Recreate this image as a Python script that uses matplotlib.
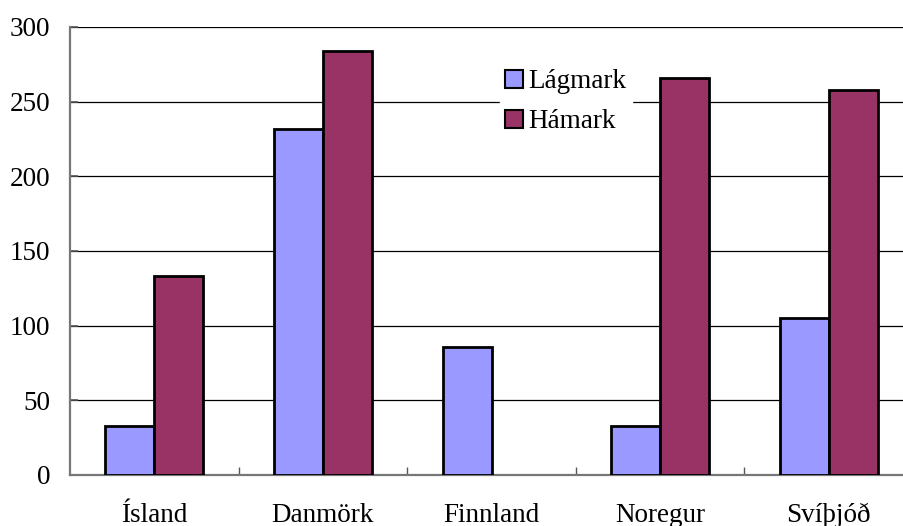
import numpy as np
import matplotlib.pyplot as plt
from matplotlib.ticker import FixedLocator

countries = ['Ísland', 'Danmörk', 'Finnland', 'Noregur', 'Svíþjóð']
lagmark = [33, 232, 86, 33, 105]
hamark = [133, 284, 0, 266, 258]
series_names = ['Lágmark', 'Hámark']
colors = ['#9999FF', '#993366']

plt.rcParams['font.family'] = ['Liberation Serif', 'DejaVu Serif']

fig = plt.figure(figsize=(9.04, 5.26), dpi=100)
ax = fig.add_axes([70 / 904, 1 - 475 / 526, 843 / 904, 448 / 526])

x = np.arange(len(countries))
w = 0.29
for off, vals, name, col in [(-w / 2, lagmark, series_names[0], colors[0]),
                             (w / 2, hamark, series_names[1], colors[1])]:
    bars = ax.bar(x + off, vals, w, color=col, edgecolor='black', linewidth=2, label=name, zorder=3)
    for b, v in zip(bars, vals):
        if v == 0:
            b.set_visible(False)

ax.set_xlim(-0.5, len(countries) - 0.5)
ax.set_ylim(0, 300)
ax.set_yticks(np.arange(0, 301, 50))
ax.yaxis.grid(True, color='black', linewidth=0.9, zorder=0)

ax.set_xticks(x)
ax.set_xticklabels(countries)
ax.xaxis.set_minor_locator(FixedLocator(np.arange(0.5, len(countries) - 0.5, 1)))
ax.tick_params(axis='x', which='major', length=0, pad=20, labelsize=19.5)
ax.tick_params(axis='x', which='minor', direction='in', length=6, width=1, color='#555555')
ax.tick_params(axis='y', direction='in', length=6, width=1.2, color='#555555', pad=14, labelsize=19.5)

for s in ['top', 'right']:
    ax.spines[s].set_visible(False)
for s in ['left', 'bottom']:
    ax.spines[s].set_color('#777777')
    ax.spines[s].set_linewidth(1.6)

leg = ax.legend(loc='upper left', bbox_to_anchor=((500 - 70) / 843, 1 - (64 - 27) / 448),
                frameon=True, fancybox=False, edgecolor='white', framealpha=1,
                fontsize=19.5, handlelength=0.65, handleheight=0.65, handletextpad=0.2,
                labelspacing=0.55, borderpad=0.2, borderaxespad=0)
for h in leg.legend_handles:
    h.set_linewidth(1.5)

fig.savefig('out.png', dpi=100)
